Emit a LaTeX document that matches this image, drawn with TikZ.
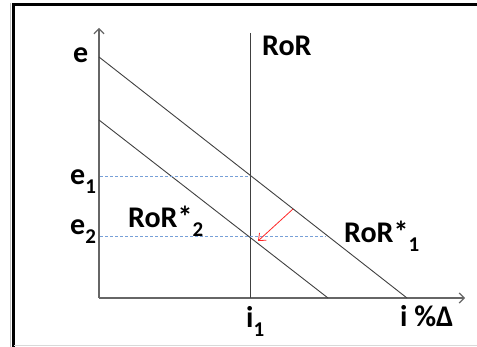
\documentclass[tikz,border=0pt]{standalone}
\usepackage{fontspec}
\setmainfont{Carlito}
\usetikzlibrary{arrows.meta,positioning,calc}
\definecolor{lvlblue}{RGB}{120,160,215}
\newcommand{\lowsub}[1]{\raisebox{-0.3em}{\fontsize{21}{21}\selectfont #1}}

\begin{document}
\begin{tikzpicture}[x=1pt,y=-1pt, every node/.style={font=\bfseries\fontsize{30}{30}\selectfont,inner sep=0pt,anchor=base west}, axis/.style={-{Straight Barb[length=5pt,width=10pt]},line width=1.2pt,black!60}, ror/.style={line width=0.9pt,black!75}, lvl/.style={densely dashed,line width=0.9pt,lvlblue}, shiftarr/.style={-{Straight Barb[length=6pt,width=10pt]},line width=0.8pt,red!85}]
\useasboundingbox (0,0) rectangle (477,347);
% frame
\draw[black!25,line width=1pt] (10.5,347) -- (10.5,3);
\draw[line width=3pt] (13,347) -- (13,4.5) -- (480,4.5);
\draw[black!15,line width=1pt] (14,345.5) -- (477,345.5);
% axes
\coordinate (O) at (99,298);
\coordinate (Ytop) at (99,28);
\coordinate (Xend) at (465,298);
\draw[axis] (O) -- (Ytop);
\draw[axis] (O) -- (Xend);
% curves
\coordinate (Vtop) at (250,33);\coordinate (Vbot) at (250,298);
\coordinate (A1) at (99,57);\coordinate (B1) at (407,298);
\coordinate (A2) at (99,120);\coordinate (B2) at (328,298);
\draw[ror] (Vtop) -- (Vbot);
\draw[ror] (A1) -- (B1);
\draw[ror] (A2) -- (B2);
% levels
\coordinate (L1a) at (100,176);\coordinate (L1b) at (250,176);
\coordinate (L2a) at (100,236);\coordinate (L2b) at (326,236);
\draw[lvl] (L1a) -- (L1b);
\draw[lvl] (L2a) -- (L2b);
% shift
\coordinate (S1) at (293,209);\coordinate (S2) at (258,241);
\draw[shiftarr] (S1) -- (S2);
% labels
\node (e) at (73,63) {e};
\node (ror) at (262,56) {RoR};
\node (e1) at (70,185) {e\lowsub{1}};
\node (e2) at (70,235) {e\lowsub{2}};
\node (ror2) at (128,228) {RoR*\lowsub{2}};
\node (ror1) at (344,243) {RoR*\lowsub{1}};
\node (i1) at (246,328) {i\lowsub{1}};
\node (ipct) at (400,327) {i \%Δ};
\end{tikzpicture}
\end{document}
